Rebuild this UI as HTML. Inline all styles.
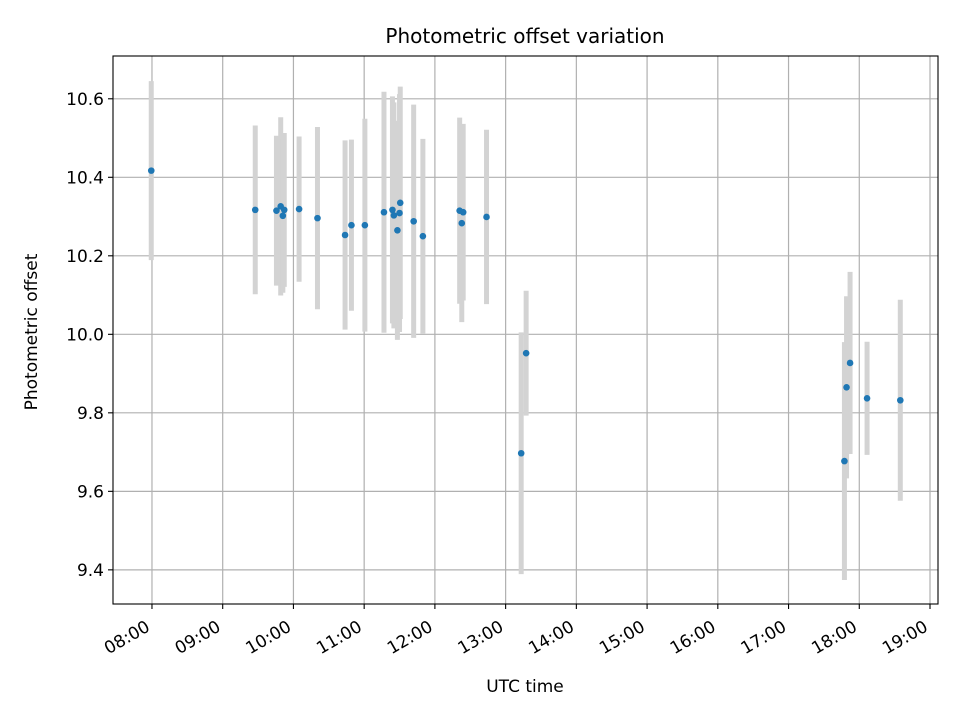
<!DOCTYPE html>
<html><head><meta charset="utf-8"><style>
html,body{margin:0;padding:0;background:#fff;}
svg{display:block;font-family:"DejaVu Sans","Liberation Sans",sans-serif;}
</style></head><body>
<svg id="chart" width="960" height="720" viewBox="0 0 960 720" xmlns="http://www.w3.org/2000/svg">
<rect width="960" height="720" fill="#fff"/>
<g id="grid"></g>
<g id="errs"></g>
<g id="pts"></g>
<rect x="113" y="56" width="825" height="548" fill="none" stroke="#000" stroke-width="1.1"/>
<g id="xticks"></g>
<g id="yticks"></g>
<text x="525" y="43" text-anchor="middle" font-size="20">Photometric offset variation</text>
<text x="525" y="692" text-anchor="middle" font-size="17">UTC time</text>
<text transform="translate(37,332) rotate(-90)" text-anchor="middle" font-size="17">Photometric offset</text>
</svg>
<script>
const times=[7.99,9.46,9.76,9.82,9.85,9.87,10.08,10.34,10.73,10.82,11.01,11.28,11.40,11.42,11.47,11.50,11.51,11.70,11.83,12.35,12.38,12.40,12.73,13.22,13.29,17.79,17.82,17.87,18.11,18.58];
const values=[10.417,10.317,10.315,10.326,10.302,10.317,10.319,10.296,10.253,10.278,10.278,10.311,10.317,10.303,10.265,10.309,10.335,10.288,10.250,10.315,10.283,10.311,10.299,9.697,9.952,9.677,9.865,9.927,9.837,9.832];
const errors=[0.228,0.215,0.191,0.227,0.196,0.196,0.185,0.232,0.241,0.218,0.271,0.307,0.289,0.288,0.279,0.303,0.296,0.297,0.248,0.237,0.252,0.225,0.222,0.308,0.159,0.303,0.232,0.232,0.144,0.256];
const xTickHours=[8,9,10,11,12,13,14,15,16,17,18,19];
const xTickLabels=["08:00","09:00","10:00","11:00","12:00","13:00","14:00","15:00","16:00","17:00","18:00","19:00"];
const yTickValues=[9.4,9.6,9.8,10.0,10.2,10.4,10.6];
const yTickLabels=["9.4","9.6","9.8","10.0","10.2","10.4","10.6"];

const L=113,R=938,T=56,B=604;
const x0=7.449,x1=19.113,y0=9.313,y1=10.709;
const xs=t=>L+(t-x0)/(x1-x0)*(R-L);
const ys=v=>B-(v-y0)/(y1-y0)*(B-T);
const NS="http://www.w3.org/2000/svg";
function mk(tag,attrs,parent){const e=document.createElementNS(NS,tag);for(const k in attrs)e.setAttribute(k,attrs[k]);parent.appendChild(e);return e;}
const grid=document.getElementById('grid'),errs=document.getElementById('errs'),pts=document.getElementById('pts'),xt=document.getElementById('xticks'),yt=document.getElementById('yticks');
xTickHours.forEach((h,i)=>{
  const x=xs(h);
  const g=mk('line',{x1:x,x2:x,y1:T,y2:B,stroke:'#b0b0b0','stroke-width':1.2},grid);
  
  
  mk('line',{x1:x,x2:x,y1:B,y2:B+5,stroke:'#000','stroke-width':1.1},xt);
  const ax=x-1, ay=B+26;
  const tx=mk('text',{x:ax,y:ay,'text-anchor':'end','font-size':17,transform:`rotate(-30 ${ax} ${ay})`},xt);
  tx.textContent=xTickLabels[i];
  
  
});
yTickValues.forEach((v,i)=>{
  const y=ys(v);
  const g=mk('line',{x1:L,x2:R,y1:y,y2:y,stroke:'#b0b0b0','stroke-width':1.2},grid);
  
  
  mk('line',{x1:L-5,x2:L,y1:y,y2:y,stroke:'#000','stroke-width':1.1},yt);
  const tx=mk('text',{x:L-9,y:y+6,'text-anchor':'end','font-size':17},yt);
  tx.textContent=yTickLabels[i];
  
  
});
times.forEach((t,i)=>{
  const x=xs(t);
  const e=mk('line',{x1:x,x2:x,y1:ys(values[i]+errors[i]),y2:ys(values[i]-errors[i]),stroke:'#d3d3d3','stroke-width':5},errs);
  
  
  const c=mk('circle',{cx:x,cy:ys(values[i]),r:3.3,fill:'#1f77b4'},pts);
  
  
});
</script>
</body></html>
